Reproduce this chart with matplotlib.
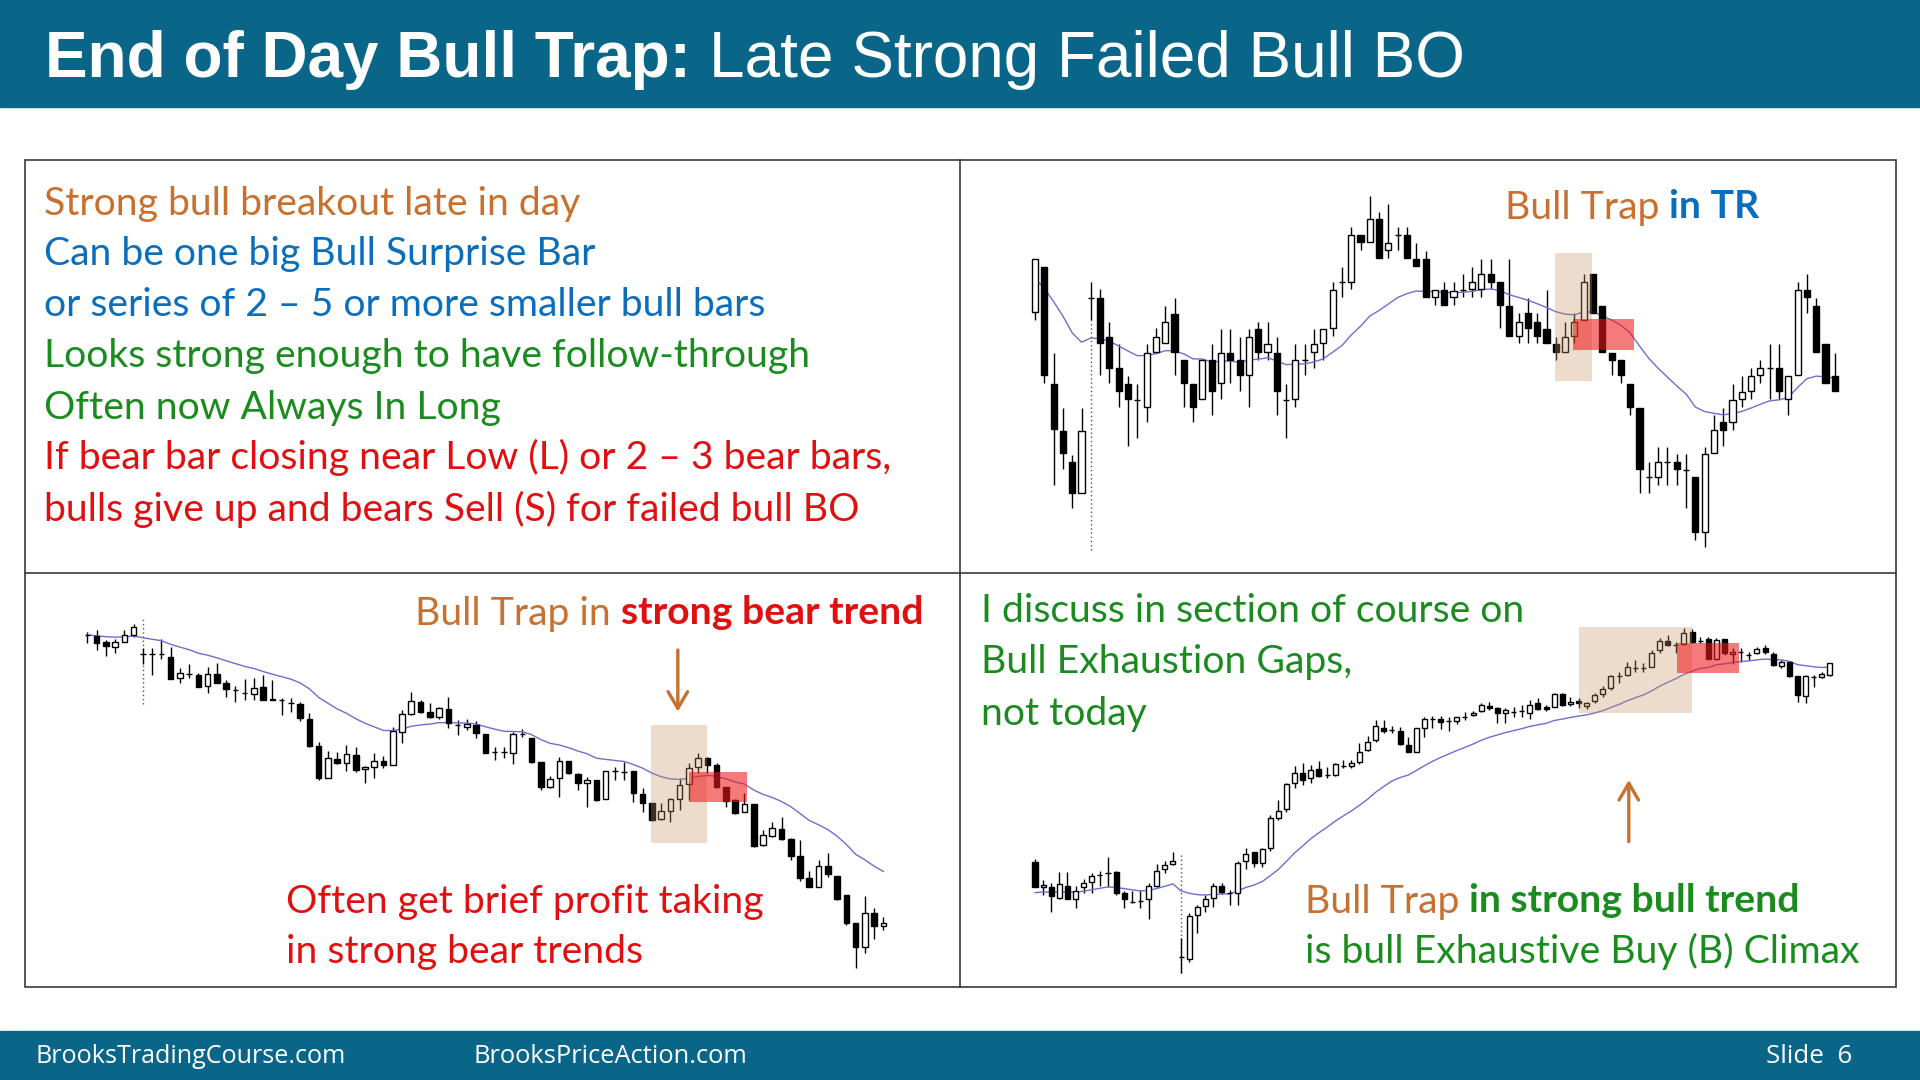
import matplotlib
matplotlib.use('Agg')
import matplotlib.pyplot as plt
from matplotlib.patches import Rectangle
import numpy as np

# ======================= DATA =======================
# Chart 1 (top right): Bull trap in trading range  -- O, H, L, C per bar
tr_open = [803, 940, 588, 448, 355, 262, 845, 845, 728, 635, 588, 540, 520, 685, 710, 798, 660, 588, 543, 660,
           592, 682, 660, 615, 753, 685, 682, 540, 543, 660, 685, 710, 757, 893, 895, 1035, 1013, 1082, 990, 1035,
           1035, 963, 963, 850, 870, 850, 870, 872, 872, 917, 893, 823, 732, 800, 775, 753, 707, 685, 732, 780,
           917, 823, 682, 660, 588, 517, 310, 310, 355, 355, 330, 310, 145, 380, 473, 473, 543, 568, 615, 635,
           635, 543, 615, 870, 823, 707, 612]
tr_high = [963, 940, 682, 517, 375, 517, 893, 872, 775, 707, 612, 588, 707, 755, 822, 847, 660, 588, 660, 707,
           753, 753, 730, 753, 775, 775, 730, 588, 707, 707, 753, 753, 893, 940, 1058, 1035, 1152, 1105, 1128, 1058,
           1058, 1012, 987, 870, 893, 893, 917, 940, 963, 963, 893, 963, 800, 845, 800, 870, 730, 775, 800, 917,
           917, 823, 682, 660, 588, 517, 355, 400, 400, 377, 377, 310, 400, 495, 517, 588, 612, 635, 660, 707,
           707, 612, 893, 917, 847, 707, 682]
tr_low = [780, 590, 285, 332, 215, 262, 780, 615, 590, 520, 403, 425, 475, 685, 710, 615, 520, 473, 543, 495,
          543, 590, 568, 520, 660, 660, 495, 425, 520, 615, 637, 660, 732, 848, 872, 990, 1013, 967, 967, 990,
          967, 943, 850, 825, 825, 825, 850, 850, 850, 872, 755, 732, 710, 710, 710, 710, 660, 685, 710, 780,
          800, 685, 615, 590, 495, 262, 262, 285, 285, 285, 215, 120, 100, 380, 403, 450, 520, 543, 590, 543,
          543, 495, 615, 800, 685, 590, 568]
tr_close = [963, 615, 452, 380, 262, 448, 845, 710, 637, 568, 543, 540, 680, 728, 775, 685, 590, 520, 660, 568,
            682, 660, 615, 728, 685, 707, 568, 540, 660, 660, 707, 753, 870, 893, 1035, 1013, 1082, 967, 1012, 1035,
            967, 943, 850, 870, 825, 867, 870, 893, 917, 895, 825, 732, 775, 755, 732, 710, 685, 728, 775, 893,
            800, 685, 660, 615, 520, 332, 310, 355, 355, 332, 330, 145, 377, 450, 450, 540, 565, 612, 635, 635,
            568, 612, 870, 850, 685, 590, 568]
tr_ema_seed = 903
tr_session_start = 7

# Chart 2 (bottom left): Bull trap in strong bear trend
bt_open = [1095, 1092, 1073, 1060, 1075, 1096, 1038, 1038, 1038, 1030, 965, 977, 975, 942, 978, 950, 930, 920, 917, 938,
           903, 900, 890, 888, 843, 763, 667, 722, 712, 735, 692, 700, 717, 705, 805, 858, 895, 865, 850, 873,
           825, 818, 825, 798, 745, 745, 740, 798, 785, 713, 638, 665, 718, 678, 650, 660, 602, 688, 685, 688,
           617, 590, 542, 567, 602, 647, 698, 725, 705, 638, 600, 563, 588, 464, 492, 512, 482, 432, 365, 340,
           402, 372, 315, 230, 158, 260, 222]
bt_high = [1105, 1110, 1080, 1082, 1110, 1128, 1055, 1055, 1082, 1058, 995, 1008, 980, 1000, 1012, 960, 942, 962, 965, 975,
           960, 905, 905, 895, 860, 775, 748, 745, 765, 760, 702, 740, 732, 820, 870, 925, 900, 890, 880, 910,
           840, 842, 838, 798, 760, 760, 805, 812, 785, 713, 672, 728, 718, 680, 670, 660, 688, 700, 715, 688,
           635, 590, 590, 605, 665, 710, 740, 730, 710, 640, 603, 622, 588, 510, 535, 548, 485, 480, 388, 420,
           442, 372, 315, 232, 312, 275, 250]
bt_low = [1070, 1050, 1032, 1042, 1075, 1090, 1008, 975, 1022, 963, 950, 965, 938, 920, 950, 908, 895, 900, 900, 900,
          900, 855, 865, 838, 760, 660, 667, 708, 688, 685, 652, 665, 695, 705, 770, 855, 860, 845, 842, 817,
          795, 810, 785, 740, 720, 725, 708, 788, 710, 630, 635, 608, 678, 630, 580, 598, 602, 660, 660, 595,
          563, 538, 540, 535, 570, 600, 680, 680, 635, 578, 558, 563, 460, 462, 490, 480, 420, 358, 338, 338,
          368, 300, 225, 95, 140, 182, 210]
bt_close = [1095, 1072, 1063, 1075, 1096, 1118, 1038, 1038, 1038, 963, 980, 977, 940, 978, 952, 932, 930, 920, 935, 900,
            900, 900, 890, 845, 763, 665, 725, 710, 737, 690, 700, 717, 705, 807, 858, 897, 865, 850, 875, 830,
            825, 828, 800, 742, 745, 745, 798, 798, 715, 640, 662, 718, 680, 652, 660, 600, 688, 688, 685, 622,
            590, 540, 567, 602, 645, 697, 725, 705, 638, 598, 562, 588, 462, 494, 517, 482, 432, 365, 340, 402,
            378, 302, 232, 158, 260, 222, 232]
bt_ema_seed = 1095
bt_session_start = 7

# Chart 3 (bottom right): Bull trap in strong bull trend
bu_open = [413, 338, 338, 307, 343, 302, 338, 355, 375, 380, 385, 322, 295, 297, 302, 343, 392, 407, 128, 122,
           255, 282, 305, 343, 322, 322, 418, 443, 412, 455, 545, 572, 652, 682, 665, 692, 675, 675, 702, 703,
           715, 750, 780, 815, 810, 808, 765, 745, 817, 842, 842, 838, 838, 848, 855, 867, 882, 875, 862, 865,
           868, 860, 890, 878, 880, 918, 887, 898, 882, 897, 917, 935, 972, 975, 995, 995, 1000, 1050, 1078, 1065,
           1068, 1103, 1078, 1082, 1022, 1082, 1038, 1045, 1035, 1042, 1055, 1038, 1003, 1015, 972, 912, 968, 970, 975]
bu_high = [422, 360, 352, 385, 385, 342, 362, 382, 388, 430, 387, 327, 328, 330, 352, 408, 417, 443, 185, 260,
           285, 315, 350, 350, 330, 418, 455, 445, 455, 555, 600, 650, 703, 712, 705, 718, 700, 710, 720, 720,
           770, 792, 840, 840, 822, 820, 790, 817, 848, 852, 852, 848, 850, 865, 868, 890, 895, 878, 875, 880,
           885, 900, 905, 885, 922, 920, 908, 905, 895, 920, 942, 975, 985, 1015, 1020, 1010, 1050, 1085, 1095, 1075,
           1115, 1112, 1088, 1088, 1085, 1082, 1055, 1055, 1045, 1060, 1065, 1045, 1020, 1018, 972, 975, 975, 985, 1012]
bu_low = [338, 315, 265, 302, 303, 275, 320, 322, 342, 338, 315, 275, 290, 275, 242, 340, 382, 405, 80, 115,
          200, 265, 278, 318, 285, 285, 392, 400, 400, 448, 540, 565, 635, 645, 652, 668, 665, 672, 695, 695,
          708, 748, 775, 802, 800, 765, 745, 743, 790, 815, 812, 808, 828, 840, 852, 865, 870, 832, 832, 850,
          850, 842, 870, 868, 878, 882, 882, 875, 872, 890, 910, 930, 952, 972, 985, 985, 998, 1042, 1062, 1040,
          1065, 1070, 1070, 1022, 1022, 1035, 1007, 1015, 1020, 1038, 1038, 1002, 995, 970, 895, 890, 938, 965, 972]
bu_close = [338, 345, 312, 348, 303, 328, 352, 372, 375, 380, 320, 303, 295, 297, 343, 388, 405, 417, 128, 252,
            278, 302, 342, 323, 322, 412, 438, 410, 453, 545, 568, 648, 682, 660, 690, 672, 675, 708, 702, 710,
            745, 775, 822, 807, 810, 768, 745, 815, 842, 842, 835, 838, 848, 848, 862, 885, 875, 862, 870, 865,
            868, 885, 872, 872, 918, 885, 895, 890, 890, 915, 932, 972, 972, 1000, 995, 995, 1040, 1078, 1065, 1065,
            1102, 1075, 1078, 1022, 1080, 1040, 1045, 1045, 1035, 1052, 1045, 1005, 1013, 972, 915, 972, 968, 978, 1010]
bu_ema_seed = 322
bu_session_start = 19

# Text content
left_lines = [
    [("Strong bull breakout late in day", "orange", "normal")],
    [("Can be one big Bull Surprise Bar", "blue", "normal")],
    [("or series of 2 \u2013 5 or more smaller bull bars", "blue", "normal")],
    [("Looks strong enough to have follow-through", "green", "normal")],
    [("Often now Always In Long", "green", "normal")],
    [("If bear bar closing near Low (L) or 2 \u2013 3 bear bars,", "red", "normal")],
    [("bulls give up and bears Sell (S) for failed bull BO", "red", "normal")],
]
title_bold = "End of Day Bull Trap:"
title_reg = "Late Strong Failed Bull BO"
footer_items = ["BrooksTradingCourse.com", "BrooksPriceAction.com", "Slide  6"]

# ======================= STYLE =======================
COL = {"orange": "#C8702F", "blue": "#0A6EBD", "green": "#1A8C1F", "red": "#E01010"}
BAR_BLUE = "#0A6689"
MA_COL = "#6E6ED0"
TAN = "#C8915F"
RED_BOX = "#EE1C1C"
BODY_FONT = "Lato"
TITLE_FONT = "Liberation Sans"
FOOT_FONT = "Open Sans"

W, H = 1920, 1080
fig = plt.figure(figsize=(19.2, 10.8), dpi=100)
fig.patch.set_facecolor("white")
bg = fig.add_axes([0, 0, 1, 1])
bg.set_xlim(0, W)
bg.set_ylim(H, 0)
bg.axis("off")
renderer = fig.canvas.get_renderer()


def tw(s, size, family, weight="normal"):
    t = bg.text(0, 0, s, fontsize=size, family=family, weight=weight)
    w = t.get_window_extent(renderer).width
    t.remove()
    return w


def space_w(size, family):
    return tw("n n", size, family) - tw("nn", size, family)


def line_w(segs, size, family):
    return sum(tw(s, size, family, wt) for s, _, wt in segs) + space_w(size, family) * (len(segs) - 1)


def fit_size(lines, targets, family, s0=20.0):
    total = sum(line_w(sg, s0, family) for sg in lines)
    return s0 * sum(targets) / total


def draw_line(x, y, segs, size, family):
    gap = space_w(size, family)
    for s, col, wt in segs:
        c = COL.get(col, col)
        t = bg.text(x, y, s, fontsize=size, family=family, weight=wt, color=c,
                    ha="left", va="baseline", zorder=5)
        x += t.get_window_extent(renderer).width + gap


# ---------- header / footer ----------
bg.add_patch(Rectangle((0, 0), W, 106.5, color=BAR_BLUE, zorder=1))
bg.add_patch(Rectangle((0, 1031), W, 49, color=BAR_BLUE, zorder=1))
tsegs = [(title_bold, "white", "bold"), (title_reg, "white", "normal")]
tsize = fit_size([tsegs], [1418], TITLE_FONT)
draw_line(45, 77, tsegs, tsize, TITLE_FONT)

for txt, x0, wdt in zip(footer_items, [36, 474, 1766], [310, 274, 86]):
    seg = [(txt, "white", "normal")]
    fs = fit_size([seg], [wdt], FOOT_FONT)
    draw_line(x0, 1063, seg, fs, FOOT_FONT)

# ---------- panel grid ----------
grid_c = "#3a3a3a"
bg.add_patch(Rectangle((24.5, 160), 1871, 827, fill=False, edgecolor=grid_c, lw=1.2, zorder=2))
bg.plot([960, 960], [160, 987], color=grid_c, lw=1.2, zorder=2)
bg.plot([24.5, 1895.5], [573, 573], color=grid_c, lw=1.2, zorder=2)

# ---------- left text ----------
targets = [539, 550, 729, 764, 448, 854, 818]
bsize = fit_size(left_lines, targets, BODY_FONT)
for k, segs in enumerate(left_lines):
    draw_line(44, 214.5 + k * 51.0, segs, bsize, BODY_FONT)

# chart captions
draw_line(1505, 218.5, [("Bull Trap", "orange", "normal"), ("in TR", "blue", "bold")], bsize, BODY_FONT)
draw_line(415, 624.5, [("Bull Trap in", "orange", "normal"), ("strong bear trend", "red", "bold")], bsize, BODY_FONT)
draw_line(286, 912.5, [("Often get brief profit taking", "red", "normal")], bsize, BODY_FONT)
draw_line(286, 962.5, [("in strong bear trends", "red", "normal")], bsize, BODY_FONT)
for k, s in enumerate(["I discuss in section of course on", "Bull Exhaustion Gaps,", "not today"]):
    draw_line(981, 622.5 + k * 51, [(s, "green", "normal")], bsize, BODY_FONT)
draw_line(1305, 912.5, [("Bull Trap", "orange", "normal"), ("in strong bull trend", "green", "bold")], bsize, BODY_FONT)
draw_line(1305, 962.5, [("is bull Exhaustive Buy (B) Climax", "green", "normal")], bsize, BODY_FONT)


# ---------- charts ----------
def ema(closes, seed, span=20):
    a = 2.0 / (span + 1)
    out = [float(seed)]
    for c in closes[1:]:
        out.append(out[-1] + a * (c - out[-1]))
    return np.array(out)


def chart_ax(cell, x0_px, dx_px, y_off):
    L, T, R, B = cell
    ax = fig.add_axes([L / W, 1 - B / H, (R - L) / W, (B - T) / H])
    ax.patch.set_alpha(0)
    ax.axis("off")
    a = 1 - (x0_px - L) / dx_px
    ax.set_xlim(a, a + (R - L) / dx_px)
    ax.set_ylim(1200 - 3 * (B - y_off), 1200 - 3 * (T - y_off))
    return ax


def candles(ax, o, h, l, c, width, seed):
    o, h, l, c = map(np.asarray, (o, h, l, c))
    x = np.arange(1, len(o) + 1)
    ax.vlines(x, l, h, color="black", lw=1.0, zorder=2)
    bull = c >= o
    ax.bar(x, np.abs(c - o), width, np.minimum(o, c), color=np.where(bull, "white", "black"),
           edgecolor="black", linewidth=1.0, zorder=3)
    ax.plot(x, ema(c, seed), color=MA_COL, lw=1.0, zorder=2.5)
    return x


def boxes(ax, tan, red):
    x1, x2, y1, y2 = tan
    ax.add_patch(Rectangle((x1, y1), x2 - x1, y2 - y1, color=TAN, alpha=0.32, lw=0, zorder=4))
    x1, x2, y1, y2 = red
    ax.add_patch(Rectangle((x1, y1), x2 - x1, y2 - y1, color=RED_BOX, alpha=0.58, lw=0, zorder=5))


def arrow(ax, x, y_from, y_to):
    ax.annotate("", xy=(x, y_to), xytext=(x, y_from),
                arrowprops=dict(arrowstyle="->,head_length=0.6,head_width=0.35", color=COL["orange"],
                                lw=2.4, mutation_scale=20, shrinkA=0, shrinkB=0), zorder=6)


# Chart 1
ax1 = chart_ax((961, 161, 1894, 572), 1035, 9.30, 180)
candles(ax1, tr_open, tr_high, tr_low, tr_close, 0.65, tr_ema_seed)
ax1.vlines(tr_session_start, 90, 780, color="#555555", lw=1.0, linestyles=(0, (1, 2)), zorder=1)
boxes(ax1, (56.9, 60.9, 597, 980), (58.9, 65.45, 690, 783))

# Chart 2
ax2 = chart_ax((26, 574, 959, 986), 87.3, 9.256, 600)
candles(ax2, bt_open, bt_high, bt_low, bt_close, 0.6, bt_ema_seed)
ax2.vlines(bt_session_start, 888, 1142, color="#555555", lw=1.0, linestyles=(0, (1, 2)), zorder=1)
boxes(ax2, (61.9, 68.0, 472, 825), (66.0, 72.3, 593, 683))
arrow(ax2, 64.8, 1050, 865)

# Chart 3
ax3 = chart_ax((961, 574, 1894, 986), 1035, 8.112, 600)
candles(ax3, bu_open, bu_high, bu_low, bu_close, 0.62, bu_ema_seed)
ax3.vlines(bu_session_start, 80, 438, color="#555555", lw=1.0, linestyles=(0, (1, 2)), zorder=1)
boxes(ax3, (68.0, 82.0, 860, 1118), (80.1, 87.8, 980, 1072))
arrow(ax3, 74.2, 475, 660)

fig.savefig("out.png", dpi=100, facecolor="white")
